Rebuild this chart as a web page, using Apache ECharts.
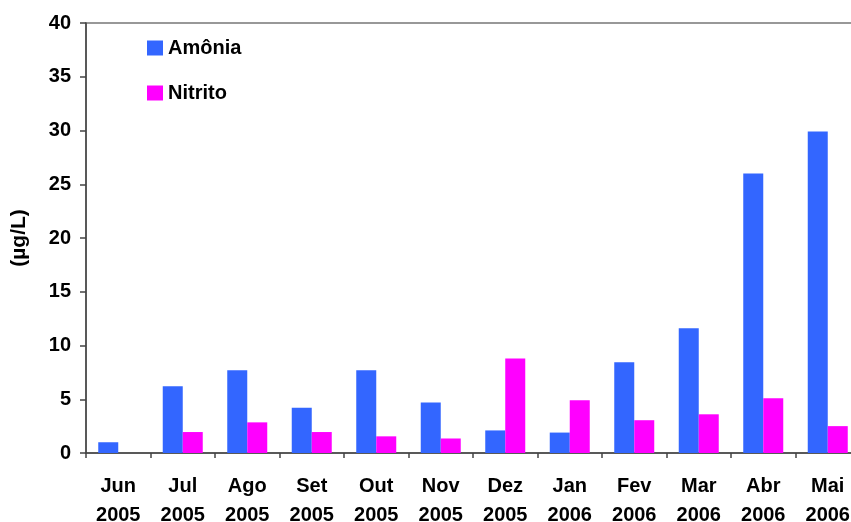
<!DOCTYPE html>
<html><head><meta charset="utf-8">
<script src="https://cdn.jsdelivr.net/npm/echarts@6/dist/echarts.min.js"></script>
<style>html,body{margin:0;padding:0;background:#fff}#c{width:851px;height:522px}</style>
</head><body><div id="c"></div>
<script>
const categories = ['Jun\n2005','Jul\n2005','Ago\n2005','Set\n2005','Out\n2005','Nov\n2005','Dez\n2005','Jan\n2006','Fev\n2006','Mar\n2006','Abr\n2006','Mai\n2006'];
const amonia = [1.0, 6.2, 7.7, 4.2, 7.7, 4.7, 2.1, 1.9, 8.45, 11.6, 26.0, 29.9];
const nitrito = [0, 1.95, 2.85, 1.95, 1.55, 1.35, 8.8, 4.9, 3.05, 3.6, 5.1, 2.5];
const yTicks = {min: 0, max: 40, interval: 5};

const font = '"Liberation Sans", Arial, sans-serif';
const chart = echarts.init(document.getElementById('c'), null, {renderer: 'canvas'});
chart.setOption({
  animation: false,
  backgroundColor: '#fff',
  grid: {left: 86, top: 23, width: 774, height: 430, containLabel: false, outerBoundsMode: 'none',
         show: true, borderColor: '#777', borderWidth: 1.5},
  legend: {
    orient: 'vertical', left: 147, top: 38, padding: 0, itemWidth: 16, itemHeight: 15, itemGap: 25, icon: 'rect',
    textStyle: {fontFamily: font, fontWeight: 'bold', fontSize: 20, color: '#000'},
    data: ['Amônia', 'Nitrito']
  },
  xAxis: {
    type: 'category', data: categories,
    axisLine: {lineStyle: {color: '#444', width: 1.5}},
    axisTick: {show: true, length: 5, interval: 0, lineStyle: {color: '#444', width: 1.5}},
    axisLabel: {interval: 0, margin: 19, fontFamily: font, fontWeight: 'bold', fontSize: 20, lineHeight: 29, color: '#000'}
  },
  yAxis: {
    type: 'value', min: yTicks.min, max: yTicks.max, interval: yTicks.interval,
    name: '(µg/L)', nameLocation: 'middle', nameGap: 56, nameRotate: 90,
    nameTextStyle: {fontFamily: font, fontWeight: 'bold', fontSize: 21, color: '#000'},
    axisLine: {show: true, lineStyle: {color: '#444', width: 1.5}},
    axisTick: {show: true, length: 6, lineStyle: {color: '#444', width: 1.5}},
    splitLine: {show: false},
    axisLabel: {margin: 15, fontFamily: font, fontWeight: 'bold', fontSize: 20, color: '#000'}
  },
  series: [
    {name: 'Amônia', type: 'bar', data: amonia, barWidth: 20, barGap: '0%', itemStyle: {color: '#3366FF'}},
    {name: 'Nitrito', type: 'bar', data: nitrito, barWidth: 20, barGap: '0%', itemStyle: {color: '#FF00FF'}}
  ]
});
</script></body></html>
